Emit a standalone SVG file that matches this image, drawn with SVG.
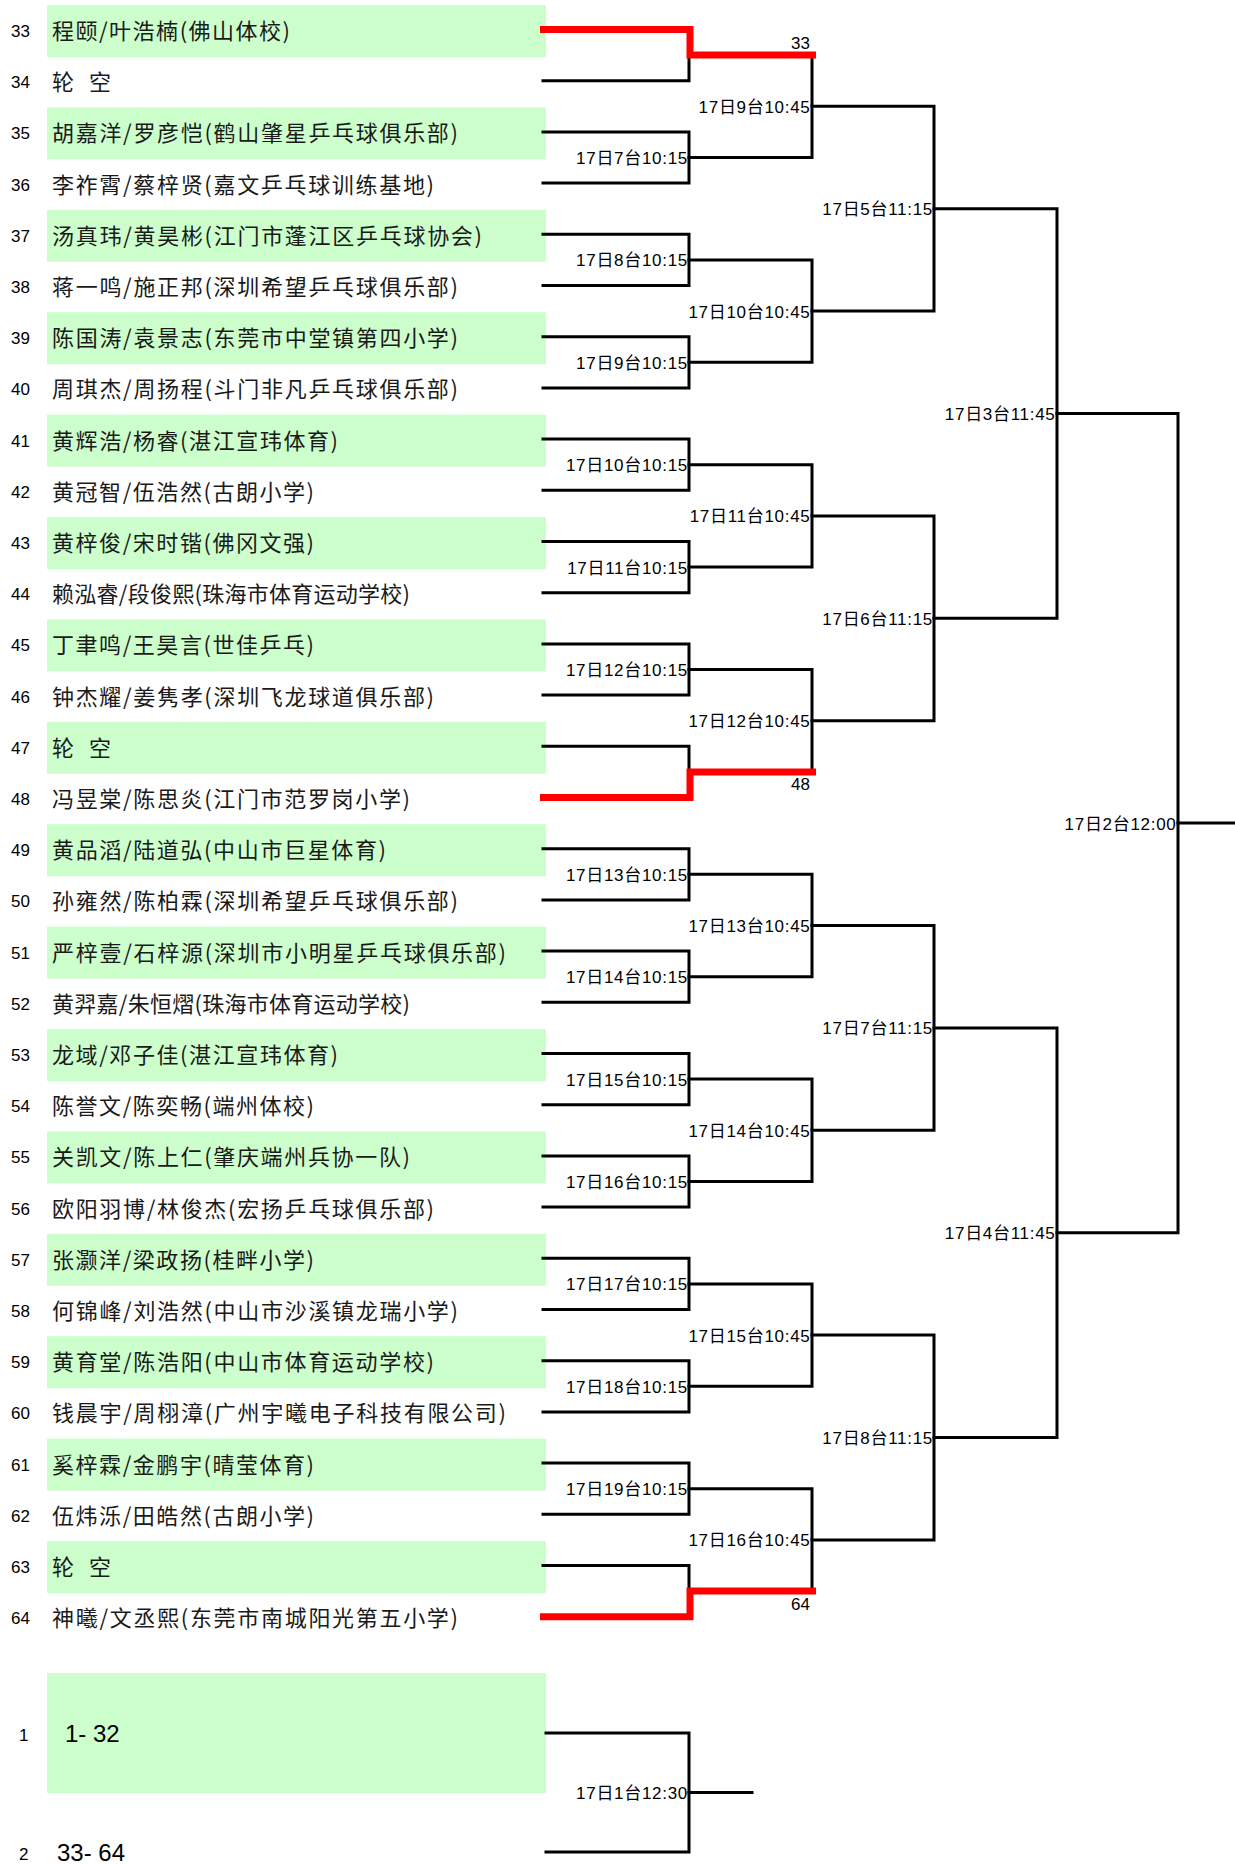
<svg xmlns="http://www.w3.org/2000/svg" width="1235" height="1864" viewBox="0 0 1235 1864">
<style>
.box{fill:#CCFFCC}
.name{font-family:"Noto Sans CJK SC","Noto Sans CJK TC",sans-serif;font-size:22px;fill:#1a1a1a}
.num{font-family:"Liberation Sans",Arial,sans-serif;font-size:17px;fill:#000}
.lbl{font-family:"Liberation Sans","Noto Sans CJK SC",sans-serif;font-size:17px;letter-spacing:0.7px;text-anchor:end;fill:#000}
.seed{font-family:"Liberation Sans",sans-serif;font-size:17px;text-anchor:end;fill:#000}
.big{font-family:"Liberation Sans",sans-serif;font-size:24px;fill:#000}
.ln{fill:none;stroke:#000;stroke-width:3;stroke-linejoin:miter;stroke-linecap:square}
.win{fill:none;stroke:#FF0000;stroke-width:7;stroke-linejoin:miter;stroke-linecap:butt}
</style>
<g id="rows">
<g id="row33"><rect class="box" x="47" y="5" width="499" height="52"/><text class="num" x="11" y="37">33</text><text class="name" x="52" y="39" textLength="238">程颐/叶浩楠(佛山体校)</text></g>
<g id="row34"><text class="num" x="11" y="88.2">34</text><text class="name" x="52" y="90.2" textLength="59" xml:space="preserve">轮 空</text></g>
<g id="row35"><rect class="box" x="47" y="107.4" width="499" height="52"/><text class="num" x="11" y="139.4">35</text><text class="name" x="52" y="141.4" textLength="406">胡嘉洋/罗彦恺(鹤山肇星乒乓球俱乐部)</text></g>
<g id="row36"><text class="num" x="11" y="190.6">36</text><text class="name" x="52" y="192.6" textLength="382">李祚霄/蔡梓贤(嘉文乒乓球训练基地)</text></g>
<g id="row37"><rect class="box" x="47" y="209.8" width="499" height="52"/><text class="num" x="11" y="241.8">37</text><text class="name" x="52" y="243.8" textLength="430">汤真玮/黄昊彬(江门市蓬江区乒乓球协会)</text></g>
<g id="row38"><text class="num" x="11" y="293">38</text><text class="name" x="52" y="295" textLength="406">蒋一鸣/施正邦(深圳希望乒乓球俱乐部)</text></g>
<g id="row39"><rect class="box" x="47" y="312.2" width="499" height="52"/><text class="num" x="11" y="344.2">39</text><text class="name" x="52" y="346.2" textLength="406">陈国涛/袁景志(东莞市中堂镇第四小学)</text></g>
<g id="row40"><text class="num" x="11" y="395.4">40</text><text class="name" x="52" y="397.4" textLength="406">周琪杰/周扬程(斗门非凡乒乓球俱乐部)</text></g>
<g id="row41"><rect class="box" x="47" y="414.6" width="499" height="52"/><text class="num" x="11" y="446.6">41</text><text class="name" x="52" y="448.6" textLength="286">黄辉浩/杨睿(湛江宣玮体育)</text></g>
<g id="row42"><text class="num" x="11" y="497.8">42</text><text class="name" x="52" y="499.8" textLength="262">黄冠智/伍浩然(古朗小学)</text></g>
<g id="row43"><rect class="box" x="47" y="517" width="499" height="52"/><text class="num" x="11" y="549">43</text><text class="name" x="52" y="551" textLength="262">黄梓俊/宋时锴(佛冈文强)</text></g>
<g id="row44"><text class="num" x="11" y="600.2">44</text><text class="name" x="52" y="602.2" textLength="358">赖泓睿/段俊熙(珠海市体育运动学校)</text></g>
<g id="row45"><rect class="box" x="47" y="619.4" width="499" height="52"/><text class="num" x="11" y="651.4">45</text><text class="name" x="52" y="653.4" textLength="262">丁聿鸣/王昊言(世佳乒乓)</text></g>
<g id="row46"><text class="num" x="11" y="702.6">46</text><text class="name" x="52" y="704.6" textLength="382">钟杰耀/姜隽孝(深圳飞龙球道俱乐部)</text></g>
<g id="row47"><rect class="box" x="47" y="721.8" width="499" height="52"/><text class="num" x="11" y="753.8">47</text><text class="name" x="52" y="755.8" textLength="59" xml:space="preserve">轮 空</text></g>
<g id="row48"><text class="num" x="11" y="805">48</text><text class="name" x="52" y="807" textLength="358">冯昱棠/陈思炎(江门市范罗岗小学)</text></g>
<g id="row49"><rect class="box" x="47" y="824.2" width="499" height="52"/><text class="num" x="11" y="856.2">49</text><text class="name" x="52" y="858.2" textLength="334">黄品滔/陆道弘(中山市巨星体育)</text></g>
<g id="row50"><text class="num" x="11" y="907.4">50</text><text class="name" x="52" y="909.4" textLength="406">孙雍然/陈柏霖(深圳希望乒乓球俱乐部)</text></g>
<g id="row51"><rect class="box" x="47" y="926.6" width="499" height="52"/><text class="num" x="11" y="958.6">51</text><text class="name" x="52" y="960.6" textLength="454">严梓壹/石梓源(深圳市小明星乒乓球俱乐部)</text></g>
<g id="row52"><text class="num" x="11" y="1009.8">52</text><text class="name" x="52" y="1011.8" textLength="358">黄羿嘉/朱恒熠(珠海市体育运动学校)</text></g>
<g id="row53"><rect class="box" x="47" y="1029" width="499" height="52"/><text class="num" x="11" y="1061">53</text><text class="name" x="52" y="1063" textLength="286">龙域/邓子佳(湛江宣玮体育)</text></g>
<g id="row54"><text class="num" x="11" y="1112.2">54</text><text class="name" x="52" y="1114.2" textLength="262">陈誉文/陈奕畅(端州体校)</text></g>
<g id="row55"><rect class="box" x="47" y="1131.4" width="499" height="52"/><text class="num" x="11" y="1163.4">55</text><text class="name" x="52" y="1165.4" textLength="358">关凯文/陈上仁(肇庆端州兵协一队)</text></g>
<g id="row56"><text class="num" x="11" y="1214.6">56</text><text class="name" x="52" y="1216.6" textLength="382">欧阳羽博/林俊杰(宏扬乒乓球俱乐部)</text></g>
<g id="row57"><rect class="box" x="47" y="1233.8" width="499" height="52"/><text class="num" x="11" y="1265.8">57</text><text class="name" x="52" y="1267.8" textLength="262">张灏洋/梁政扬(桂畔小学)</text></g>
<g id="row58"><text class="num" x="11" y="1317">58</text><text class="name" x="52" y="1319" textLength="406">何锦峰/刘浩然(中山市沙溪镇龙瑞小学)</text></g>
<g id="row59"><rect class="box" x="47" y="1336.2" width="499" height="52"/><text class="num" x="11" y="1368.2">59</text><text class="name" x="52" y="1370.2" textLength="382">黄育堂/陈浩阳(中山市体育运动学校)</text></g>
<g id="row60"><text class="num" x="11" y="1419.4">60</text><text class="name" x="52" y="1421.4" textLength="454">钱晨宇/周栩漳(广州宇曦电子科技有限公司)</text></g>
<g id="row61"><rect class="box" x="47" y="1438.6" width="499" height="52"/><text class="num" x="11" y="1470.6">61</text><text class="name" x="52" y="1472.6" textLength="262">奚梓霖/金鹏宇(晴莹体育)</text></g>
<g id="row62"><text class="num" x="11" y="1521.8">62</text><text class="name" x="52" y="1523.8" textLength="262">伍炜泺/田皓然(古朗小学)</text></g>
<g id="row63"><rect class="box" x="47" y="1541" width="499" height="52"/><text class="num" x="11" y="1573">63</text><text class="name" x="52" y="1575" textLength="59" xml:space="preserve">轮 空</text></g>
<g id="row64"><text class="num" x="11" y="1624.2">64</text><text class="name" x="52" y="1626.2" textLength="406">神曦/文丞熙(东莞市南城阳光第五小学)</text></g>
<g id="final1"><rect class="box" x="47" y="1673" width="499" height="120"/><text class="num" x="19" y="1741" font-size="15">1</text><text class="big" x="65" y="1742" xml:space="preserve">1- 32</text></g>
<g id="final2"><text class="num" x="19" y="1860" font-size="15">2</text><text class="big" x="57" y="1861" xml:space="preserve">33- 64</text></g>
</g>
<g id="connectors">
<path class="ln" d="M543,80.7H689V55.1"/>
<path class="ln" d="M543,131.9H689V183.1H543"/>
<path class="ln" d="M543,234.3H689V285.5H543"/>
<path class="ln" d="M543,336.7H689V387.9H543"/>
<path class="ln" d="M543,439.1H689V490.3H543"/>
<path class="ln" d="M543,541.5H689V592.7H543"/>
<path class="ln" d="M543,643.9H689V695.1H543"/>
<path class="ln" d="M543,746.3H689V771.9"/>
<path class="ln" d="M543,848.7H689V899.9H543"/>
<path class="ln" d="M543,951.1H689V1002.3H543"/>
<path class="ln" d="M543,1053.5H689V1104.7H543"/>
<path class="ln" d="M543,1155.9H689V1207.1H543"/>
<path class="ln" d="M543,1258.3H689V1309.5H543"/>
<path class="ln" d="M543,1360.7H689V1411.9H543"/>
<path class="ln" d="M543,1463.1H689V1514.3H543"/>
<path class="ln" d="M543,1565.5H689V1591.1"/>
<path class="ln" d="M689,55.1H812V157.5H689"/>
<path class="ln" d="M689,259.9H812V362.3H689"/>
<path class="ln" d="M689,464.7H812V567.1H689"/>
<path class="ln" d="M689,669.5H812V771.9H689"/>
<path class="ln" d="M689,874.3H812V976.7H689"/>
<path class="ln" d="M689,1079.1H812V1181.5H689"/>
<path class="ln" d="M689,1283.9H812V1386.3H689"/>
<path class="ln" d="M689,1488.7H812V1591.1H689"/>
<path class="ln" d="M812,106.3H934V311.1H812"/>
<path class="ln" d="M812,515.9H934V720.7H812"/>
<path class="ln" d="M812,925.5H934V1130.3H812"/>
<path class="ln" d="M812,1335.1H934V1539.9H812"/>
<path class="ln" d="M934,208.7H1057V618.3H934"/>
<path class="ln" d="M934,1027.9H1057V1437.5H934"/>
<path class="ln" d="M1057,413.5H1178V1232.7H1057"/>
<path class="ln" d="M1178,823.1H1235"/>
<path class="win" d="M540,29.5H690V55.1H816"/>
<path class="win" d="M540,797.5H690V771.9H816"/>
<path class="win" d="M540,1616.7H690V1591.1H816"/>
<path class="ln" d="M546,1733H689V1852H546"/>
<path class="ln" d="M689,1792.5H752"/>
</g>
<g id="labels">
<text class="seed" x="810" y="49">33</text>
<text class="seed" x="810" y="790">48</text>
<text class="seed" x="810" y="1610">64</text>
<text class="lbl" x="688" y="164">17日7台10:15</text>
<text class="lbl" x="688" y="266.4">17日8台10:15</text>
<text class="lbl" x="688" y="368.8">17日9台10:15</text>
<text class="lbl" x="688" y="471.2">17日10台10:15</text>
<text class="lbl" x="688" y="573.6">17日11台10:15</text>
<text class="lbl" x="688" y="676">17日12台10:15</text>
<text class="lbl" x="688" y="880.8">17日13台10:15</text>
<text class="lbl" x="688" y="983.2">17日14台10:15</text>
<text class="lbl" x="688" y="1085.6">17日15台10:15</text>
<text class="lbl" x="688" y="1188">17日16台10:15</text>
<text class="lbl" x="688" y="1290.4">17日17台10:15</text>
<text class="lbl" x="688" y="1392.8">17日18台10:15</text>
<text class="lbl" x="688" y="1495.2">17日19台10:15</text>
<text class="lbl" x="810.5" y="112.8">17日9台10:45</text>
<text class="lbl" x="810.5" y="317.6">17日10台10:45</text>
<text class="lbl" x="810.5" y="522.4">17日11台10:45</text>
<text class="lbl" x="810.5" y="727.2">17日12台10:45</text>
<text class="lbl" x="810.5" y="932">17日13台10:45</text>
<text class="lbl" x="810.5" y="1136.8">17日14台10:45</text>
<text class="lbl" x="810.5" y="1341.6">17日15台10:45</text>
<text class="lbl" x="810.5" y="1546.4">17日16台10:45</text>
<text class="lbl" x="933" y="215.2">17日5台11:15</text>
<text class="lbl" x="933" y="624.8">17日6台11:15</text>
<text class="lbl" x="933" y="1034.4">17日7台11:15</text>
<text class="lbl" x="933" y="1444">17日8台11:15</text>
<text class="lbl" x="1055.5" y="420">17日3台11:45</text>
<text class="lbl" x="1055.5" y="1239.2">17日4台11:45</text>
<text class="lbl" x="1176.5" y="829.6">17日2台12:00</text>
<text class="lbl" x="688" y="1799">17日1台12:30</text>
</g>
</svg>
